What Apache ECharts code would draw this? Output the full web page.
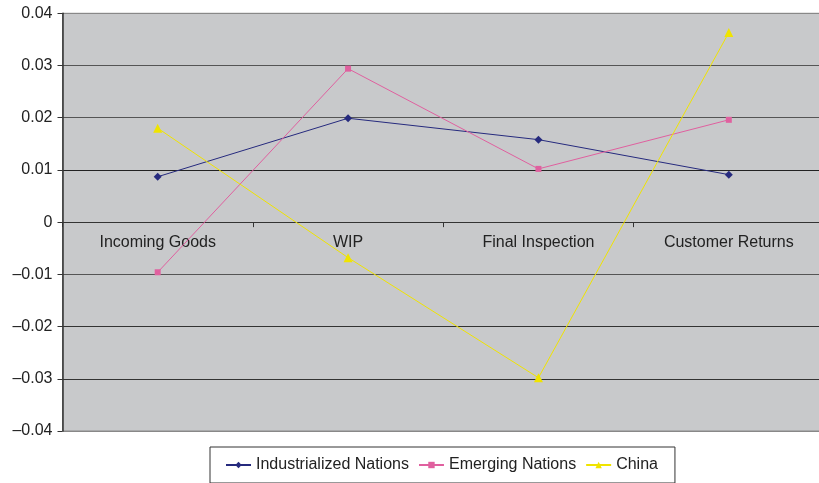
<!DOCTYPE html>
<html>
<head>
<meta charset="utf-8">
<script src="https://cdn.jsdelivr.net/npm/echarts@6/dist/echarts.min.js"></script>
<style>
  html, body { margin: 0; padding: 0; background: #fff; overflow: hidden; }
  #chart { width: 825px; height: 483px; }
</style>
</head>
<body>
<div id="chart"></div>
<script>
// Stages along the quality process
const categories = ['Incoming Goods', 'WIP', 'Final Inspection', 'Customer Returns'];

// Values per region group
const industrialized = [0.0087, 0.0199, 0.0158, 0.0091];
const emerging = [-0.0096, 0.0294, 0.0102, 0.0196];
const china = [0.0180, -0.0068, -0.0298, 0.0363];

// Value axis range
const yMin = -0.04;
const yMax = 0.04;
const yStep = 0.01;

const font = 'Liberation Sans, Arial, sans-serif';
const fontSize = 16;

const gridTop = 13.3;
const gridBottom = 52;
const chartHeight = 483;

function fmtValue(v) {
  const r = Math.round(v * 100) / 100;
  if (r === 0) return '0';
  return (r < 0 ? '\u2013' : '') + Math.abs(r).toFixed(2);
}

// Category labels sit just under the zero line rather than at the plot bottom
const plotHeight = chartHeight - gridTop - gridBottom;
const zeroOffset = plotHeight * (0 - yMin) / (yMax - yMin);
const categoryLabelMargin = 12 - zeroOffset;

const chart = echarts.init(document.getElementById('chart'), null, { renderer: 'canvas' });

chart.setOption({
  animation: false,
  backgroundColor: '#ffffff',
  textStyle: { fontFamily: font },
  grid: {
    left: 62.5,
    right: 1,
    top: gridTop,
    bottom: gridBottom,
    show: true,
    backgroundColor: '#c8c9cb',
    borderColor: '#8a8a8a',
    borderWidth: 1
  },
  legend: {
    top: 447,
    left: 210,
    padding: [10, 17, 10, 15],
    itemGap: 9,
    itemWidth: 25,
    itemHeight: 8,
    borderColor: '#333',
    borderWidth: 1,
    backgroundColor: '#fff',
    textStyle: { fontFamily: font, fontSize: fontSize, color: '#222' },
    data: ['Industrialized Nations', 'Emerging Nations', 'China']
  },
  xAxis: {
    type: 'category',
    data: categories,
    boundaryGap: true,
    axisLine: { onZero: true, lineStyle: { color: '#333', width: 1 } },
    axisTick: { show: true, length: 5, lineStyle: { color: '#333' } },
    axisLabel: { fontFamily: font, fontSize: fontSize, color: '#222', margin: categoryLabelMargin },
    splitLine: { show: false }
  },
  yAxis: {
    type: 'value',
    min: yMin,
    max: yMax,
    interval: yStep,
    axisLine: { show: true, lineStyle: { color: '#333', width: 1.5 } },
    axisTick: { show: true, length: 5, lineStyle: { color: '#333' } },
    axisLabel: {
      fontFamily: font, fontSize: fontSize, color: '#222', margin: 10,
      formatter: fmtValue
    },
    splitLine: {
      show: true,
      lineStyle: {
        width: 1.2,
        color: ['#888', '#333', '#333', '#555', '#444', '#222', '#555', '#555', '#888']
      }
    }
  },
  series: [
    {
      name: 'Industrialized Nations',
      type: 'line',
      data: industrialized,
      symbol: 'diamond',
      symbolSize: 8,
      color: '#262a7e',
      lineStyle: { width: 1, color: '#262a7e' },
      itemStyle: { color: '#262a7e' }
    },
    {
      name: 'Emerging Nations',
      type: 'line',
      data: emerging,
      symbol: 'rect',
      symbolSize: 6,
      color: '#e0609f',
      lineStyle: { width: 1, color: '#e0609f' },
      itemStyle: { color: '#e0609f' }
    },
    {
      name: 'China',
      type: 'line',
      data: china,
      symbol: 'triangle',
      symbolSize: 9,
      color: '#f0e400',
      lineStyle: { width: 1, color: '#f0e400' },
      itemStyle: { color: '#f0e400' }
    }
  ]
});
</script>
</body>
</html>
